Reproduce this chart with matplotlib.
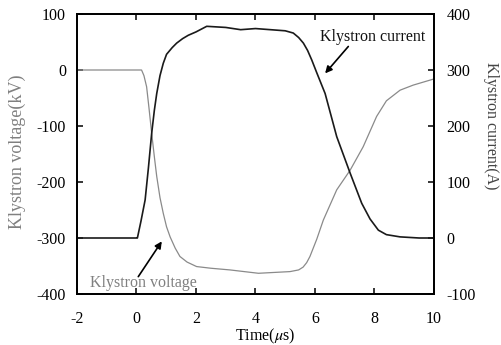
import matplotlib
matplotlib.use("Agg")
import matplotlib.pyplot as plt

# ---- data ----
t_volt = [-2, -1, 0, 0.17, 0.25, 0.34, 0.42, 0.51, 0.60, 0.68, 0.79, 0.90, 1.01, 1.13,
          1.30, 1.46, 1.70, 2.02, 2.50, 3.14, 4.10, 5.16, 5.45, 5.60, 5.72, 5.83, 6.06,
          6.28, 6.73, 7.18, 7.62, 8.07, 8.40, 8.86, 9.30, 9.87, 10]
volt_kV = [0, 0, 0, 0, -10, -30, -68, -113, -155, -190, -228, -256, -280, -298,
           -318, -333, -343, -351, -354, -357, -363, -360, -357, -352, -344, -333, -302,
           -268, -214, -179, -137, -83, -55, -36, -27, -18, -16]

t_curr = [-2, 0, 0.03, 0.15, 0.29, 0.40, 0.51, 0.60, 0.68, 0.79, 0.90, 1.01, 1.20, 1.35,
          1.55, 1.74, 2.00, 2.36, 3.0, 3.5, 4.0, 4.5, 5.0, 5.27, 5.45, 5.61, 5.75, 5.89,
          6.06, 6.34, 6.73, 7.18, 7.57, 7.85, 8.13, 8.40, 8.86, 9.50, 10]
curr_A = [0, 0, 0, 30, 68, 125, 187, 228, 258, 290, 312, 328, 340, 348,
          356, 362, 368, 378, 376, 372, 374, 372, 370, 366, 358, 348, 335, 318,
          295, 258, 181, 116, 62, 34, 14, 6, 2, 0, 0]

x_ticks = [-2, 0, 2, 4, 6, 8, 10]
volt_ticks = [100, 0, -100, -200, -300, -400]
curr_ticks = [400, 300, 200, 100, 0, -100]

plt.rcParams['font.family'] = ['Liberation Serif', 'DejaVu Serif']
plt.rcParams['mathtext.fontset'] = 'stix'
plt.rcParams['axes.unicode_minus'] = False

fig = plt.figure(figsize=(5.02, 3.45), dpi=100)
ax = fig.add_axes([77/502, 1 - 294/345, (434-77)/502, (294-14)/345])
ax2 = ax.twinx()

ax.plot(t_volt, volt_kV, color='#8a8a8a', lw=0.9)
ax2.plot(t_curr, curr_A, color='#1a1a1a', lw=1.2)

ax.set_xlim(-2, 10)
ax.set_ylim(-400, 100)
ax2.set_ylim(-100, 400)
ax.set_xticks(x_ticks)
ax.set_yticks(volt_ticks)
ax2.set_yticks(curr_ticks)

fs = 11.5
ax.tick_params(axis='x', direction='in', length=4, width=1.1, top=True, pad=12, labelsize=fs)
ax.tick_params(axis='y', direction='in', length=4, width=1.1, pad=8, labelsize=fs)
ax2.tick_params(axis='y', direction='in', length=4, width=1.1, pad=9, labelsize=fs)
for a in (ax, ax2):
    for s in a.spines.values():
        s.set_linewidth(1.3)

ax.set_ylabel('Klystron voltage(kV)', color='#808080', fontsize=13)
ax.yaxis.set_label_coords(-0.143, 0.507)
ax2.set_ylabel('Klystron current(A)', color='#444444', fontsize=11.5, rotation=-90,
               va='center')
ax2.yaxis.set_label_coords(1.16, 0.6)
ax.set_xlabel('Time($\\mu$s)', fontsize=fs)
ax.xaxis.set_label_coords(0.527, -0.118)

arrow = dict(arrowstyle='-|>', color='black', lw=1.2, mutation_scale=10,
             shrinkA=0, shrinkB=0)
ax.text(7.94, 59, 'Klystron current', ha='center', va='center', fontsize=fs,
        color='#111111')
ax.annotate('', xy=(6.34, -6), xytext=(7.12, 42), arrowprops=arrow)
ax.text(0.22, -380, 'Klystron voltage', ha='center', va='center', fontsize=fs,
        color='#808080')
ax.annotate('', xy=(0.85, -306), xytext=(0.06, -369), arrowprops=arrow)

fig.savefig('out.png', dpi=100)
